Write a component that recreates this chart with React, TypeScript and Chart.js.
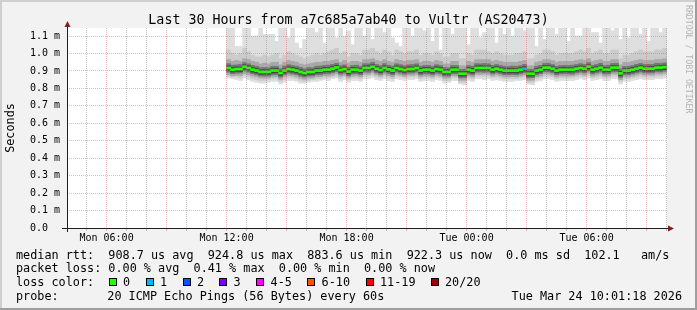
import React, { useEffect, useRef } from 'react';
import { Chart, registerables } from 'chart.js';

Chart.register(...registerables);

const W = 697;
const H = 310;
const MONO = "'DejaVu Sans Mono', monospace";

// ---- time axis (minutes since Mon 00:00) ----
const startMinute = 241.3; // Mon 04:01:18
const endMinute = 2041.3; // Tue 10:01:18
const xLabelMinutes = [360, 720, 1080, 1440, 1800];
const xTickLabels = ['Mon 06:00', 'Mon 12:00', 'Mon 18:00', 'Tue 00:00', 'Tue 06:00'];
const firstBinMinute = 720; // data begins Mon 12:00
const binMinutes = 12;

// ---- value axis (milliseconds) ----
const yMax = 1.146;
const yTickValues = [0, 0.1, 0.2, 0.3, 0.4, 0.5, 0.6, 0.7, 0.8, 0.9, 1.0, 1.1];
const yTickLabels = ['0.0  ', '0.1 m', '0.2 m', '0.3 m', '0.4 m', '0.5 m', '0.6 m', '0.7 m', '0.8 m', '0.9 m', '1.0 m', '1.1 m'];

// ---- median rtt per bin (ms) ----
const median = [
  0.917, 0.907, 0.911, 0.911, 0.924, 0.917, 0.907, 0.902, 0.894, 0.894,
  0.894, 0.902, 0.902, 0.888, 0.902, 0.911, 0.907, 0.902, 0.894, 0.888,
  0.894, 0.894, 0.902, 0.902, 0.907, 0.907, 0.913, 0.920, 0.905, 0.911,
  0.896, 0.907, 0.907, 0.902, 0.917, 0.917, 0.924, 0.913, 0.905, 0.917,
  0.909, 0.902, 0.917, 0.911, 0.905, 0.911, 0.911, 0.917, 0.902, 0.907,
  0.907, 0.902, 0.911, 0.907, 0.894, 0.894, 0.907, 0.907, 0.884, 0.884,
  0.907, 0.902, 0.917, 0.917, 0.917, 0.917, 0.907, 0.913, 0.907, 0.902,
  0.902, 0.902, 0.902, 0.907, 0.913, 0.884, 0.884, 0.902, 0.907, 0.919,
  0.919, 0.913, 0.902, 0.907, 0.907, 0.907, 0.907, 0.913, 0.917, 0.913,
  0.925, 0.907, 0.913, 0.919, 0.907, 0.907, 0.919, 0.919, 0.886, 0.902,
  0.902, 0.907, 0.913, 0.919, 0.913, 0.913, 0.913, 0.919, 0.919, 0.922,
];

// ---- lost pings per bin (of 20) ----
const lossPerBin = [
  0, 0, 0, 0, 0, 0, 0, 0, 0, 0,
  0, 0, 0, 0, 0, 0, 0, 0, 0, 0,
  0, 0, 0, 0, 0, 0, 0, 0, 0, 0,
  0, 0, 0, 0, 0, 0, 0, 0, 0, 0,
  0, 0, 0, 0, 0, 0, 0, 0, 0, 0,
  0, 0, 0, 0, 0, 0, 0, 0, 0, 0,
  0, 0, 0, 0, 0, 0, 0, 0, 0, 0,
  0, 0, 0, 0, 1, 0, 0, 0, 0, 0,
  0, 0, 0, 0, 0, 0, 0, 0, 0, 0,
  0, 0, 0, 0, 0, 0, 0, 0, 0, 0,
  0, 0, 0, 0, 0, 0, 0, 0, 0, 0,
];

// ---- smoke: outermost band (min..max ping) ----
const smoke1Hi = [
  1.15, 1.15, 1.04, 1.04, 1.15, 1.15, 1.10, 1.10, 1.15, 1.11,
  1.11, 1.11, 1.07, 1.15, 1.15, 1.09, 1.15, 1.06, 1.03, 1.08,
  1.15, 1.15, 1.12, 1.15, 1.06, 1.15, 1.15, 1.09, 1.15, 1.10,
  1.13, 1.05, 1.15, 1.15, 1.10, 1.15, 1.08, 1.15, 1.15, 1.12,
  1.15, 1.09, 1.06, 1.04, 1.15, 1.15, 1.10, 1.15, 1.15, 1.13,
  1.15, 1.07, 1.15, 1.02, 1.15, 1.15, 1.11, 1.15, 1.15, 1.15,
  1.05, 1.15, 1.15, 1.09, 1.12, 1.15, 1.15, 1.06, 1.15, 1.11,
  1.15, 1.10, 1.15, 1.15, 1.13, 1.15, 1.15, 1.04, 1.15, 1.08,
  1.15, 1.15, 1.11, 1.15, 1.15, 1.07, 1.15, 1.10, 1.10, 1.15,
  1.15, 1.12, 1.12, 1.06, 1.15, 1.15, 1.13, 1.15, 1.08, 1.15,
  1.09, 1.15, 1.15, 1.11, 1.15, 1.07, 1.15, 1.15, 1.12, 1.15,
];
const smoke1Lo = [
  0.860, 0.855, 0.850, 0.845, 0.860, 0.850, 0.840, 0.835, 0.830, 0.830,
  0.835, 0.840, 0.840, 0.825, 0.835, 0.845, 0.845, 0.840, 0.830, 0.830,
  0.835, 0.840, 0.840, 0.845, 0.850, 0.845, 0.855, 0.860, 0.840, 0.850,
  0.835, 0.845, 0.845, 0.840, 0.855, 0.855, 0.860, 0.850, 0.845, 0.855,
  0.845, 0.840, 0.855, 0.850, 0.845, 0.850, 0.850, 0.855, 0.840, 0.845,
  0.845, 0.840, 0.850, 0.845, 0.830, 0.835, 0.845, 0.845, 0.825, 0.820,
  0.845, 0.840, 0.855, 0.855, 0.850, 0.855, 0.845, 0.850, 0.845, 0.840,
  0.840, 0.840, 0.845, 0.845, 0.850, 0.825, 0.820, 0.840, 0.845, 0.855,
  0.855, 0.850, 0.840, 0.845, 0.845, 0.845, 0.845, 0.850, 0.855, 0.850,
  0.860, 0.845, 0.850, 0.855, 0.845, 0.845, 0.855, 0.855, 0.825, 0.840,
  0.840, 0.845, 0.850, 0.855, 0.850, 0.850, 0.850, 0.855, 0.855, 0.860,
];
const smoke2Hi = [
  1.02, 1.00, 0.99, 1.00, 1.03, 1.01, 0.99, 0.98, 0.98, 0.99,
  0.98, 0.99, 1.00, 0.97, 0.99, 1.01, 1.00, 0.99, 0.98, 0.97,
  0.98, 0.99, 1.00, 0.99, 1.00, 1.01, 1.02, 1.03, 1.00, 1.01,
  0.98, 1.00, 1.00, 0.99, 1.02, 1.02, 1.03, 1.01, 1.00, 1.02,
  1.01, 0.99, 1.02, 1.01, 1.00, 1.01, 1.01, 1.02, 0.99, 1.00,
  1.00, 0.99, 1.01, 1.00, 0.98, 0.98, 1.00, 1.00, 0.97, 0.97,
  1.00, 0.99, 1.02, 1.02, 1.02, 1.01, 1.00, 1.01, 1.00, 0.99,
  0.99, 0.99, 1.00, 1.00, 1.01, 0.97, 0.97, 0.99, 1.00, 1.02,
  1.02, 1.01, 0.99, 1.00, 1.00, 1.00, 1.00, 1.01, 1.02, 1.01,
  1.03, 1.00, 1.01, 1.02, 1.00, 1.00, 1.02, 1.02, 0.97, 0.99,
  0.99, 1.00, 1.01, 1.02, 1.01, 1.01, 1.01, 1.02, 1.02, 1.03,
];
const smoke2Lo = [
  0.870, 0.865, 0.865, 0.860, 0.875, 0.865, 0.855, 0.850, 0.845, 0.845,
  0.850, 0.855, 0.855, 0.840, 0.850, 0.860, 0.860, 0.855, 0.845, 0.840,
  0.845, 0.850, 0.855, 0.855, 0.860, 0.860, 0.865, 0.870, 0.855, 0.865,
  0.850, 0.860, 0.860, 0.855, 0.870, 0.870, 0.875, 0.865, 0.860, 0.870,
  0.860, 0.855, 0.870, 0.865, 0.860, 0.865, 0.865, 0.870, 0.855, 0.860,
  0.860, 0.855, 0.865, 0.860, 0.845, 0.845, 0.860, 0.860, 0.835, 0.835,
  0.860, 0.855, 0.870, 0.870, 0.870, 0.870, 0.860, 0.865, 0.860, 0.855,
  0.855, 0.855, 0.855, 0.860, 0.865, 0.835, 0.835, 0.855, 0.860, 0.870,
  0.870, 0.865, 0.855, 0.860, 0.860, 0.860, 0.860, 0.865, 0.870, 0.865,
  0.875, 0.860, 0.865, 0.870, 0.860, 0.860, 0.870, 0.870, 0.840, 0.855,
  0.855, 0.860, 0.865, 0.870, 0.865, 0.865, 0.865, 0.870, 0.870, 0.875,
];
const smoke3Hi = [
  0.965, 0.955, 0.960, 0.955, 0.970, 0.965, 0.955, 0.950, 0.940, 0.945,
  0.940, 0.950, 0.950, 0.935, 0.950, 0.960, 0.955, 0.950, 0.940, 0.935,
  0.940, 0.945, 0.950, 0.950, 0.955, 0.955, 0.960, 0.965, 0.950, 0.960,
  0.945, 0.955, 0.955, 0.950, 0.965, 0.965, 0.970, 0.960, 0.955, 0.965,
  0.955, 0.950, 0.965, 0.960, 0.955, 0.960, 0.960, 0.965, 0.950, 0.955,
  0.955, 0.950, 0.960, 0.955, 0.940, 0.940, 0.955, 0.955, 0.930, 0.930,
  0.955, 0.950, 0.965, 0.965, 0.965, 0.965, 0.955, 0.960, 0.955, 0.950,
  0.950, 0.950, 0.950, 0.955, 0.960, 0.930, 0.930, 0.950, 0.955, 0.965,
  0.965, 0.960, 0.950, 0.955, 0.955, 0.955, 0.955, 0.960, 0.965, 0.960,
  0.970, 0.955, 0.960, 0.965, 0.955, 0.955, 0.965, 0.965, 0.935, 0.950,
  0.950, 0.955, 0.960, 0.965, 0.960, 0.960, 0.960, 0.965, 0.965, 0.970,
];
const smoke3Lo = [
  0.880, 0.872, 0.875, 0.874, 0.885, 0.878, 0.870, 0.866, 0.860, 0.858,
  0.860, 0.866, 0.867, 0.852, 0.866, 0.874, 0.872, 0.866, 0.858, 0.852,
  0.858, 0.860, 0.866, 0.867, 0.872, 0.871, 0.876, 0.884, 0.869, 0.875,
  0.861, 0.870, 0.872, 0.866, 0.881, 0.880, 0.888, 0.877, 0.870, 0.880,
  0.873, 0.866, 0.880, 0.875, 0.869, 0.876, 0.875, 0.880, 0.866, 0.872,
  0.871, 0.866, 0.875, 0.870, 0.858, 0.859, 0.872, 0.871, 0.846, 0.847,
  0.871, 0.866, 0.881, 0.880, 0.882, 0.880, 0.871, 0.877, 0.872, 0.866,
  0.866, 0.867, 0.866, 0.871, 0.877, 0.846, 0.847, 0.866, 0.871, 0.883,
  0.882, 0.877, 0.866, 0.872, 0.871, 0.871, 0.872, 0.877, 0.881, 0.876,
  0.888, 0.871, 0.877, 0.883, 0.871, 0.872, 0.883, 0.882, 0.850, 0.866,
  0.866, 0.871, 0.877, 0.883, 0.876, 0.877, 0.876, 0.883, 0.882, 0.886,
];
const smoke4Hi = [
  0.942, 0.933, 0.935, 0.937, 0.948, 0.941, 0.932, 0.927, 0.919, 0.920,
  0.918, 0.927, 0.926, 0.913, 0.928, 0.936, 0.931, 0.927, 0.920, 0.913,
  0.920, 0.918, 0.927, 0.928, 0.931, 0.933, 0.938, 0.944, 0.930, 0.935,
  0.922, 0.931, 0.933, 0.926, 0.942, 0.941, 0.949, 0.937, 0.930, 0.942,
  0.933, 0.928, 0.941, 0.936, 0.930, 0.935, 0.937, 0.941, 0.927, 0.931,
  0.932, 0.926, 0.936, 0.931, 0.920, 0.918, 0.932, 0.931, 0.909, 0.910,
  0.931, 0.927, 0.942, 0.941, 0.943, 0.941, 0.932, 0.937, 0.931, 0.927,
  0.926, 0.928, 0.927, 0.931, 0.938, 0.909, 0.910, 0.927, 0.932, 0.943,
  0.944, 0.937, 0.927, 0.931, 0.932, 0.931, 0.933, 0.937, 0.942, 0.937,
  0.948, 0.932, 0.937, 0.944, 0.931, 0.933, 0.943, 0.944, 0.911, 0.926,
  0.927, 0.931, 0.938, 0.943, 0.937, 0.938, 0.937, 0.944, 0.943, 0.946,
];
const smoke4Lo = [
  0.893, 0.884, 0.887, 0.888, 0.900, 0.893, 0.884, 0.878, 0.871, 0.870,
  0.871, 0.878, 0.879, 0.864, 0.878, 0.887, 0.883, 0.879, 0.870, 0.865,
  0.870, 0.871, 0.878, 0.878, 0.883, 0.884, 0.889, 0.896, 0.881, 0.887,
  0.872, 0.883, 0.884, 0.878, 0.893, 0.892, 0.900, 0.889, 0.881, 0.893,
  0.885, 0.878, 0.893, 0.887, 0.881, 0.887, 0.888, 0.893, 0.878, 0.883,
  0.883, 0.878, 0.887, 0.883, 0.871, 0.870, 0.883, 0.883, 0.860, 0.861,
  0.883, 0.878, 0.893, 0.894, 0.892, 0.893, 0.883, 0.889, 0.884, 0.878,
  0.878, 0.879, 0.878, 0.883, 0.889, 0.860, 0.861, 0.878, 0.884, 0.895,
  0.894, 0.889, 0.878, 0.883, 0.884, 0.883, 0.882, 0.889, 0.893, 0.889,
  0.900, 0.883, 0.889, 0.894, 0.883, 0.884, 0.894, 0.895, 0.862, 0.878,
  0.878, 0.883, 0.889, 0.894, 0.889, 0.888, 0.889, 0.895, 0.894, 0.898,
];
const smoke5Hi = [
  0.929, 0.920, 0.923, 0.922, 0.936, 0.930, 0.919, 0.914, 0.906, 0.907,
  0.906, 0.914, 0.915, 0.900, 0.913, 0.923, 0.920, 0.914, 0.907, 0.900,
  0.906, 0.907, 0.914, 0.913, 0.920, 0.919, 0.925, 0.932, 0.917, 0.923,
  0.908, 0.920, 0.918, 0.914, 0.929, 0.930, 0.936, 0.925, 0.917, 0.929,
  0.921, 0.914, 0.929, 0.923, 0.917, 0.924, 0.922, 0.929, 0.914, 0.920,
  0.919, 0.914, 0.924, 0.919, 0.906, 0.907, 0.920, 0.918, 0.896, 0.897,
  0.919, 0.915, 0.929, 0.930, 0.928, 0.929, 0.920, 0.925, 0.919, 0.914,
  0.915, 0.914, 0.913, 0.919, 0.925, 0.896, 0.897, 0.914, 0.920, 0.931,
  0.930, 0.925, 0.914, 0.919, 0.920, 0.919, 0.918, 0.925, 0.929, 0.925,
  0.936, 0.919, 0.925, 0.930, 0.920, 0.919, 0.931, 0.930, 0.898, 0.914,
  0.913, 0.920, 0.925, 0.931, 0.924, 0.925, 0.926, 0.930, 0.931, 0.934,
];
const smoke5Lo = [
  0.903, 0.893, 0.897, 0.896, 0.910, 0.903, 0.893, 0.888, 0.880, 0.881,
  0.880, 0.888, 0.889, 0.874, 0.888, 0.897, 0.893, 0.888, 0.881, 0.874,
  0.880, 0.881, 0.888, 0.889, 0.893, 0.894, 0.899, 0.906, 0.891, 0.897,
  0.882, 0.893, 0.894, 0.888, 0.903, 0.904, 0.910, 0.899, 0.891, 0.903,
  0.895, 0.888, 0.903, 0.897, 0.891, 0.897, 0.898, 0.903, 0.888, 0.894,
  0.893, 0.888, 0.897, 0.894, 0.880, 0.881, 0.893, 0.894, 0.870, 0.871,
  0.893, 0.888, 0.903, 0.904, 0.903, 0.903, 0.893, 0.899, 0.894, 0.888,
  0.888, 0.889, 0.888, 0.893, 0.899, 0.870, 0.871, 0.888, 0.893, 0.905,
  0.905, 0.899, 0.888, 0.893, 0.894, 0.893, 0.894, 0.899, 0.903, 0.899,
  0.910, 0.893, 0.899, 0.905, 0.893, 0.894, 0.905, 0.904, 0.872, 0.888,
  0.888, 0.893, 0.899, 0.905, 0.899, 0.898, 0.899, 0.905, 0.904, 0.908,
];

// ---- legend content ----
const titleText = 'Last 30 Hours from a7c685a7ab40 to Vultr (AS20473)';
const legendLine1 = 'median rtt:  908.7 us avg  924.8 us max  883.6 us min  922.3 us now  0.0 ms sd  102.1   am/s';
const legendLine2 = 'packet loss: 0.00 % avg  0.41 % max  0.00 % min  0.00 % now';
const legendLine3Label = 'loss color:';
const lossLabels = ['0', '1', '2', '3', '4-5', '6-10', '11-19', '20/20'];
const lossColors = ['#26ff00', '#00b8ff', '#0059ff', '#7e00ff', '#ff00ff', '#ff5500', '#ff0000', '#a10000'];
const probeLabel = 'probe:';
const probeText = '20 ICMP Echo Pings (56 Bytes) every 60s';
const stampText = 'Tue Mar 24 10:01:18 2026';

const GRID = 'rgba(150,150,150,0.6)';
const MGRID = 'rgba(225,90,90,0.45)';

function lossBucket(n: number): number {
  if (n <= 3) return n;
  if (n <= 5) return 4;
  if (n <= 10) return 5;
  if (n <= 19) return 6;
  return 7;
}

const binCenters = median.map((_, i) => firstBinMinute + binMinutes * (i + 0.5));
const band = (lo: number[], hi: number[]) => lo.map((l, i) => ({ x: binCenters[i], y: [l, hi[i]] }));
const medianHalf = 0.0058;

const decorPlugin = {
  id: 'rrdDecor',
  beforeDraw(chart: any) {
    const ctx = chart.ctx as CanvasRenderingContext2D;
    const a = chart.chartArea;
    ctx.save();
    ctx.fillStyle = '#f2f2f2';
    ctx.fillRect(0, 0, W, H);
    ctx.fillStyle = '#cfcfcf';
    ctx.fillRect(0, 0, W, 2);
    ctx.fillRect(0, 0, 2, H);
    ctx.fillStyle = '#9e9e9e';
    ctx.fillRect(0, H - 2, W, 2);
    ctx.fillRect(W - 2, 0, 2, H);
    ctx.fillStyle = '#ffffff';
    ctx.fillRect(a.left, a.top, a.right - a.left, a.bottom - a.top);
    ctx.restore();
  },
  afterDraw(chart: any) {
    const ctx = chart.ctx as CanvasRenderingContext2D;
    const a = chart.chartArea;
    ctx.save();
    // axes
    ctx.strokeStyle = '#1f1f1f';
    ctx.lineWidth = 1;
    ctx.setLineDash([]);
    ctx.beginPath();
    ctx.moveTo(a.left - 5, a.bottom + 0.5);
    ctx.lineTo(a.right + 2, a.bottom + 0.5);
    ctx.moveTo(a.left + 0.5, a.bottom + 4);
    ctx.lineTo(a.left + 0.5, a.top - 2);
    ctx.stroke();
    ctx.fillStyle = '#801f1f';
    ctx.beginPath();
    ctx.moveTo(a.right + 1, a.bottom - 2.5);
    ctx.lineTo(a.right + 1, a.bottom + 3.5);
    ctx.lineTo(a.right + 7, a.bottom + 0.5);
    ctx.closePath();
    ctx.fill();
    ctx.beginPath();
    ctx.moveTo(a.left - 2.5, a.top - 1);
    ctx.lineTo(a.left + 3.5, a.top - 1);
    ctx.lineTo(a.left + 0.5, a.top - 7);
    ctx.closePath();
    ctx.fill();

    // title
    ctx.fillStyle = '#000';
    ctx.font = `13.3px ${MONO}`;
    ctx.textAlign = 'center';
    ctx.textBaseline = 'alphabetic';
    ctx.fillText(titleText, W / 2, 24);

    // vertical axis label
    ctx.save();
    ctx.font = `11.8px ${MONO}`;
    ctx.translate(11, (a.top + a.bottom) / 2);
    ctx.rotate(-Math.PI / 2);
    ctx.textAlign = 'center';
    ctx.textBaseline = 'middle';
    ctx.fillText('Seconds', 0, 0);
    ctx.restore();

    // watermark
    ctx.save();
    ctx.font = `8.2px ${MONO}`;
    ctx.fillStyle = '#b4b4b4';
    ctx.translate(688, 5);
    ctx.rotate(Math.PI / 2);
    ctx.textAlign = 'left';
    ctx.textBaseline = 'middle';
    ctx.fillText('RRDTOOL / TOBI OETIKER', 0, 0);
    ctx.restore();

    // legend
    ctx.font = `11.8px ${MONO}`;
    ctx.textAlign = 'left';
    ctx.textBaseline = 'alphabetic';
    ctx.fillStyle = '#000';
    ctx.fillText(legendLine1, 16, 258.5);
    ctx.fillText(legendLine2, 16, 272.4);
    ctx.fillText(legendLine3Label, 16, 286.3);
    const boxX = [108.7, 145.7, 182.7, 219.3, 256.3, 307.3, 365.7, 430.7];
    lossLabels.forEach((lab, i) => {
      const x = Math.round(boxX[i]);
      ctx.fillStyle = lossColors[i];
      ctx.fillRect(x, 278, 8, 8);
      ctx.strokeStyle = '#000';
      ctx.strokeRect(x + 0.5, 278.5, 7, 7);
      ctx.fillStyle = '#000';
      ctx.fillText(lab, boxX[i] + 14.3, 286.3);
    });
    ctx.fillText(probeLabel, 16, 300.2);
    ctx.fillText(probeText, 107.3, 300.2);
    ctx.textAlign = 'right';
    ctx.fillText(stampText, 682, 300.2);
    ctx.restore();
  },
};

export default function App() {
  const ref = useRef<HTMLCanvasElement | null>(null);
  useEffect(() => {
    if (!ref.current) return;
    const barBase = {
      type: 'bar' as const,
      borderWidth: 0,
      grouped: false,
      barPercentage: 1,
      categoryPercentage: 1,
      clip: 0,
    };
    const chart = new Chart(ref.current, {
      type: 'bar',
      data: {
        datasets: [
          { ...barBase, label: 'median', order: 0, data: median.map((m, i) => ({ x: binCenters[i], y: [m - medianHalf, m + medianHalf] })),
            backgroundColor: (c: any) => lossColors[lossBucket(lossPerBin[c.dataIndex] || 0)] },
          { ...barBase, label: 's5', order: 1, data: band(smoke5Lo, smoke5Hi), backgroundColor: '#464646' },
          { ...barBase, label: 's4', order: 2, data: band(smoke4Lo, smoke4Hi), backgroundColor: '#767676' },
          { ...barBase, label: 's3', order: 3, data: band(smoke3Lo, smoke3Hi), backgroundColor: '#a8a8a8' },
          { ...barBase, label: 's2', order: 4, data: band(smoke2Lo, smoke2Hi), backgroundColor: '#cbcbcb' },
          { ...barBase, label: 's1', order: 5, data: band(smoke1Lo, smoke1Hi), backgroundColor: '#dedede' },
        ] as any,
      },
      options: {
        animation: false,
        responsive: false,
        events: [],
        layout: { padding: { left: 0, top: 28, right: 30, bottom: 0 } },
        plugins: { legend: { display: false }, tooltip: { enabled: false }, title: { display: false } },
        scales: {
          x: {
            type: 'linear',
            min: startMinute,
            max: endMinute,
            offset: false,
            grid: {
              offset: false,
              z: 1,
              lineWidth: 1,
              drawTicks: true,
              tickLength: 3,
              color: (c: any) => (c.tick && c.tick.value % 180 === 0 ? MGRID : GRID),
              tickColor: (c: any) => (c.tick && c.tick.value % 180 === 0 ? MGRID : GRID),
            },
            border: { display: false, dash: [1, 1] },
            ticks: {
              autoSkip: false,
              maxRotation: 0,
              minRotation: 0,
              padding: 1,
              color: '#000',
              font: { family: MONO, size: 10 },
              callback: (v: any) => {
                const k = xLabelMinutes.indexOf(Number(v));
                return k >= 0 ? xTickLabels[k] : '';
              },
            },
            afterBuildTicks: (s: any) => {
              const t: any[] = [];
              for (let m = 300; m <= 2040; m += 60) t.push({ value: m });
              s.ticks = t;
            },
            afterFit: (s: any) => { s.height = H - 228; },
          },
          y: {
            type: 'linear',
            min: 0,
            max: yMax,
            grid: { z: 1, color: MGRID, drawTicks: false, lineWidth: 1 },
            border: { display: false, dash: [1, 1] },
            ticks: {
              padding: 7,
              color: '#000',
              font: { family: MONO, size: 10 },
              callback: (_v: any, i: number) => yTickLabels[i],
            },
            afterBuildTicks: (s: any) => { s.ticks = yTickValues.map((v) => ({ value: v })); },
            afterFit: (s: any) => { s.width = 67; },
          },
        },
      } as any,
      plugins: [decorPlugin],
    });
    return () => chart.destroy();
  }, []);
  return (
    <div style={{ position: 'fixed', left: 0, top: 0, width: W, height: H }}>
      <canvas ref={ref} width={W} height={H} style={{ display: 'block', width: W, height: H }} />
    </div>
  );
}
